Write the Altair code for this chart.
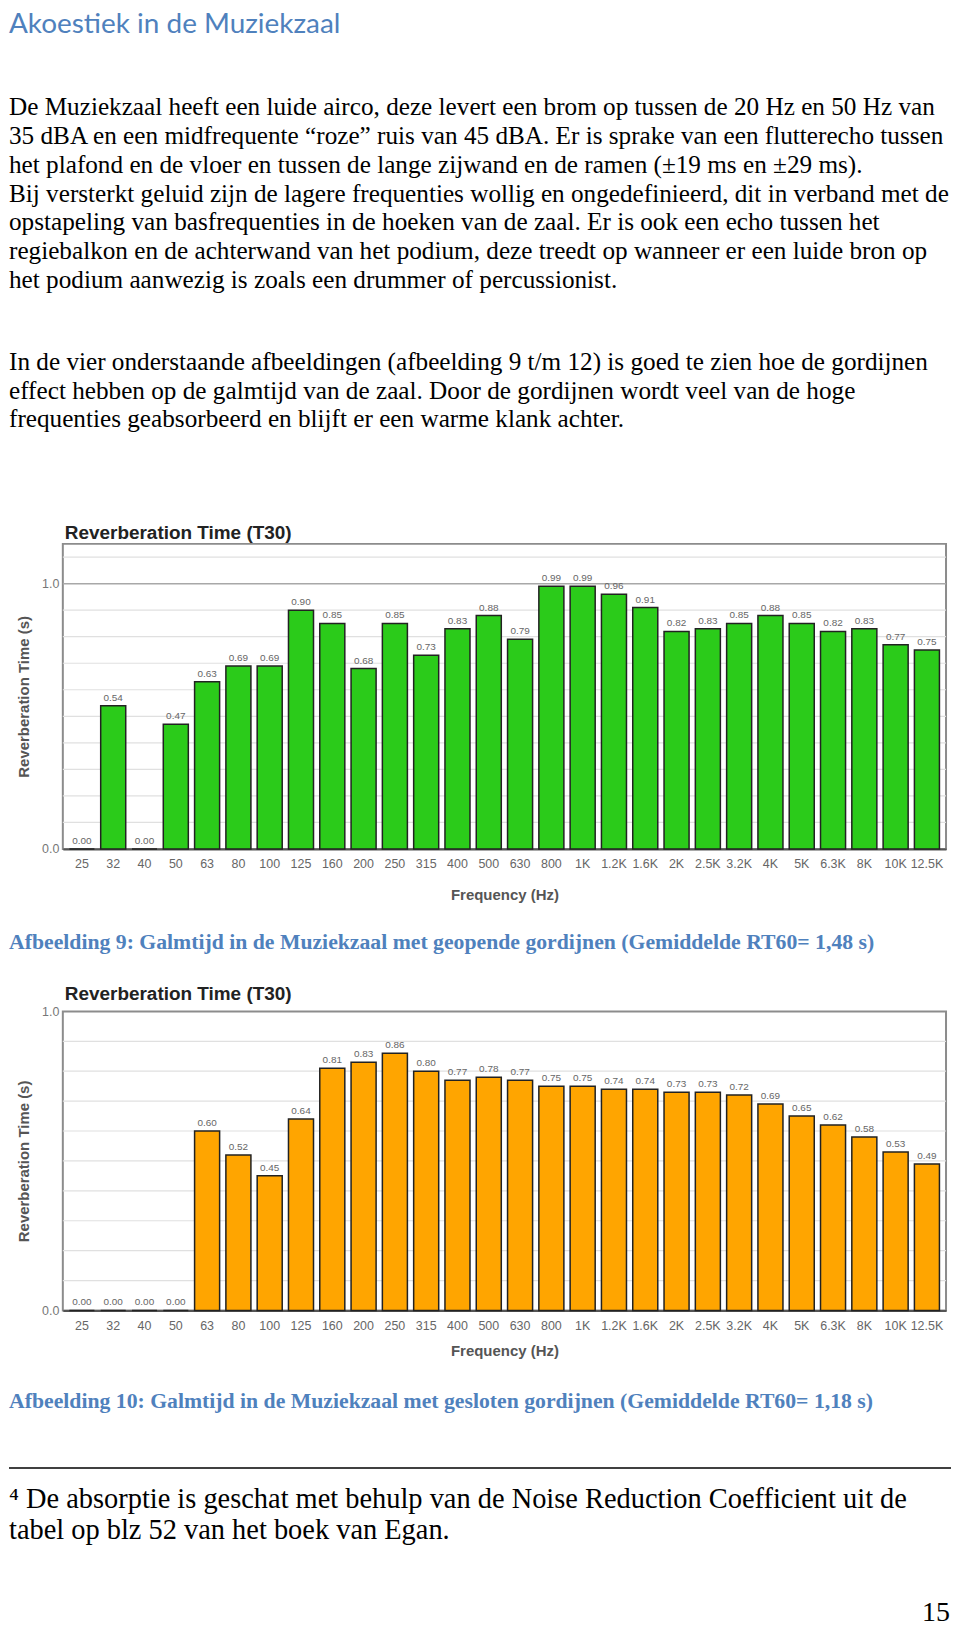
import altair as alt
import pandas as pd

# ---------------- data ----------------
freqs = ["25", "32", "40", "50", "63", "80", "100", "125", "160", "200", "250", "315",
         "400", "500", "630", "800", "1K", "1.2K", "1.6K", "2K", "2.5K", "3.2K", "4K",
         "5K", "6.3K", "8K", "10K", "12.5K"]
rt_open = [0.00, 0.54, 0.00, 0.47, 0.63, 0.69, 0.69, 0.90, 0.85, 0.68, 0.85, 0.73,
           0.83, 0.88, 0.79, 0.99, 0.99, 0.96, 0.91, 0.82, 0.83, 0.85, 0.88,
           0.85, 0.82, 0.83, 0.77, 0.75]
rt_closed = [0.00, 0.00, 0.00, 0.00, 0.60, 0.52, 0.45, 0.64, 0.81, 0.83, 0.86, 0.80,
             0.77, 0.78, 0.77, 0.75, 0.75, 0.74, 0.74, 0.73, 0.73, 0.72, 0.69,
             0.65, 0.62, 0.58, 0.53, 0.49]
y_label_values = [0.0, 1.0]
grid_open = [0.1, 0.2, 0.3, 0.4, 0.5, 0.6, 0.7, 0.8, 0.9, 1.1]
major_open = [1.0]
grid_closed = [0.1, 0.2, 0.3, 0.4, 0.5, 0.6, 0.7, 0.8, 0.9]

chart_title = "Reverberation Time (T30)"
y_title = "Reverberation Time (s)"
x_title = "Frequency (Hz)"

page_title = "Akoestiek in de Muziekzaal"
para1 = [
    "De Muziekzaal heeft een luide airco, deze levert een brom op tussen de 20 Hz en 50 Hz van",
    "35 dBA en een midfrequente \u201croze\u201d ruis van 45 dBA. Er is sprake van een flutterecho tussen",
    "het plafond en de vloer en tussen de lange zijwand en de ramen (\u00b119 ms en \u00b129 ms).",
    "Bij versterkt geluid zijn de lagere frequenties wollig en ongedefinieerd, dit in verband met de",
    "opstapeling van basfrequenties in de hoeken van de zaal. Er is ook een echo tussen het",
    "regiebalkon en de achterwand van het podium, deze treedt op wanneer er een luide bron op",
    "het podium aanwezig is zoals een drummer of percussionist.",
]
para2 = [
    "In de vier onderstaande afbeeldingen (afbeelding 9 t/m 12) is goed te zien hoe de gordijnen",
    "effect hebben op de galmtijd van de zaal. Door de gordijnen wordt veel van de hoge",
    "frequenties geabsorbeerd en blijft er een warme klank achter.",
]
caption9 = "Afbeelding 9: Galmtijd in de Muziekzaal met geopende gordijnen (Gemiddelde RT60= 1,48 s)"
caption10 = "Afbeelding 10: Galmtijd in de Muziekzaal met gesloten gordijnen (Gemiddelde RT60= 1,18 s)"
footnote = [
    "\u2074 De absorptie is geschat met behulp van de Noise Reduction Coefficient uit de",
    "tabel op blz 52 van het boek van Egan.",
]
page_no = "15"

# ---------------- helpers ----------------
one = pd.DataFrame({"k": [0]})
PW = 886          # plot-area width of the bar charts
LEFT = -54        # page left margin relative to plot left
BLUE = "#4F81BD"
SERIF = "Liberation Serif"
SANS = "Liberation Sans"


def txt(text, x, y, size, font, color="#000000", weight="normal", align="left",
        baseline="alphabetic", lh=None):
    kw = dict(align=align, baseline=baseline, fontSize=size, font=font,
              color=color, fontWeight=weight)
    if lh is not None:
        kw["lineHeight"] = lh
    return alt.Chart(one).mark_text(**kw).encode(
        x=alt.value(x), y=alt.value(y), text=alt.value(text))


def y_axis(height):
    return alt.Axis(values=y_label_values, format=".1f", grid=False, ticks=False,
                    domain=False, labelFontSize=12.5, labelColor="#777777",
                    labelFont=SANS, labelPadding=4,
                    title=y_title, titleX=-39, titleY=height / 2,
                    titleAngle=270, titleAlign="center", titleBaseline="middle",
                    titleFont=SANS, titleFontSize=15, titleFontWeight="bold",
                    titleColor="#555555")


def bar_panel(values, color, domain, grid_vals, major_vals, height, title_pad):
    df = pd.DataFrame({"freq": freqs, "rt": values})
    yscale = alt.Scale(domain=domain, nice=False, zero=True)
    yax = y_axis(height)
    x = alt.X("freq:N", sort=freqs,
              scale=alt.Scale(paddingInner=0.2, paddingOuter=0.21),
              axis=alt.Axis(title=x_title, labelAngle=0, labelFontSize=12.5,
                            labelColor="#666666", labelFont=SANS, labelPadding=9,
                            labelOverlap=False, ticks=False, domain=True,
                            domainColor="#555555", domainWidth=2,
                            titleFont=SANS, titleFontSize=15, titleFontWeight="bold",
                            titleColor="#555555", titlePadding=title_pad))
    base = alt.Chart(df)
    bars = base.mark_bar(color=color, stroke="#222222", strokeWidth=1.5).encode(
        x=x, y=alt.Y("rt:Q", scale=yscale, axis=yax))
    labels = base.mark_text(dy=-3, baseline="bottom", fontSize=10, color="#666666",
                            font=SANS).encode(
        x=alt.X("freq:N", sort=freqs),
        y=alt.Y("rt:Q", scale=yscale, axis=yax),
        text=alt.Text("rt:Q", format=".2f"))
    layers = [alt.Chart(pd.DataFrame({"g": grid_vals})).mark_rule(
        color="#e0e0e0", strokeWidth=1.2).encode(y=alt.Y("g:Q", scale=yscale, axis=yax))]
    if major_vals:
        layers.append(alt.Chart(pd.DataFrame({"g": major_vals})).mark_rule(
            color="#a8a8a8", strokeWidth=1.5).encode(y=alt.Y("g:Q", scale=yscale, axis=yax)))
    layers += [bars, labels]
    return alt.layer(*layers).properties(
        width=PW, height=height,
        view=alt.ViewBackground(stroke="#8c8c8c", strokeWidth=2),
        title=alt.TitleParams(chart_title, anchor="start", frame="group", fontSize=19,
                              fontWeight="bold", color="#222222", font=SANS, offset=1,
                              dx=2))


# ---------------- panels ----------------
header = alt.layer(
    txt(page_title, LEFT, 15, 28, "Lato", color=BLUE, baseline="middle"),
    txt(para1, LEFT, 105, 25.3, SERIF, lh=28.9),
    txt(para2, LEFT, 361, 25.3, SERIF, lh=28.6),
).properties(width=PW, height=535)

chart1 = bar_panel(rt_open, "#2BCB1A", [0, 1.15], grid_open, major_open, 306, 17)

mid = alt.layer(
    txt(caption9, LEFT, 93, 21.8, SERIF, color=BLUE, weight="bold", baseline="middle"),
).properties(width=PW, height=163)

chart2 = bar_panel(rt_closed, "#FFA500", [0, 1.0], grid_closed, [], 300, 12)

footer = alt.layer(
    txt(caption10, LEFT, 91, 21.8, SERIF, color=BLUE, weight="bold", baseline="middle"),
    alt.Chart(one).mark_rule(color="#000000", strokeWidth=1.6).encode(
        x=alt.value(LEFT), x2=alt.value(891), y=alt.value(158)),
    txt(footnote, LEFT, 198, 28.5, SERIF, lh=31),
    txt(page_no, 890, 312, 28, SERIF, align="right"),
).properties(width=PW, height=309)

chart = alt.vconcat(header, chart1, mid, chart2, footer, spacing=0, bounds="flush").properties(
    padding=0
).configure_view(strokeWidth=0)

chart.save("out.html", embed_options={"renderer": "svg", "actions": False})
